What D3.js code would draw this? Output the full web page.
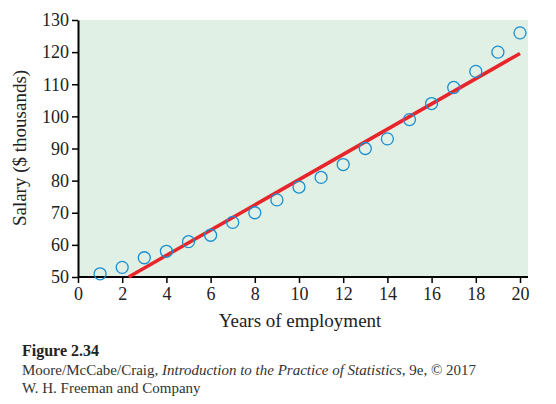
<!DOCTYPE html>
<html><head><meta charset="utf-8">
<script src="https://cdn.jsdelivr.net/npm/d3@7"></script>
<style>body{margin:0;background:#fff}text{font-family:"Liberation Serif","DejaVu Serif",serif}</style>
</head><body><svg></svg>
<script>
var years = [1,2,3,4,5,6,7,8,9,10,11,12,13,14,15,16,17,18,19,20]
var salary = [51,53,56,58,61,63,67,70,74,78,81,85,90,93,99,104,109,114,120,126]
var xTicks = [0,2,4,6,8,10,12,14,16,18,20]
var yTicks = [50,60,70,80,90,100,110,120,130]
var fitIntercept = 41.0, fitSlope = 3.93

var svg = d3.select("svg").attr("width",556).attr("height",404)
var x = d3.scaleLinear().domain([0,20]).range([78,520])
var y = d3.scaleLinear().domain([50,130]).range([277,20])

svg.append("rect").attr("x",78).attr("y",20).attr("width",450).attr("height",257).attr("fill","#e1f0e5")

var xAxis = svg.append("g").attr("transform","translate(0,277)")
  .call(d3.axisBottom(x).tickValues(xTicks).tickSize(6).tickSizeOuter(0))
var yAxis = svg.append("g").attr("transform","translate(78,0)")
  .call(d3.axisLeft(y).tickValues(yTicks).tickSize(6).tickSizeOuter(0))
xAxis.attr("font-size",null).attr("font-family",null)
yAxis.attr("font-size",null).attr("font-family",null)
xAxis.select(".domain").attr("d","M78,0H528").attr("stroke-width",2)
yAxis.select(".domain").attr("stroke-width",2)
svg.selectAll(".tick line").attr("stroke-width",1.5)
svg.selectAll(".tick text").attr("font-size",18).attr("fill","#222")
xAxis.selectAll(".tick text").attr("y",10)
yAxis.selectAll(".tick text").attr("x",-9)

// fitted line, starting where it meets y=50
var x0 = (50-fitIntercept)/fitSlope
svg.append("line")
  .attr("x1",x(x0)).attr("y1",y(50))
  .attr("x2",x(20)).attr("y2",y(fitIntercept+fitSlope*20))
  .attr("stroke","#e8252b").attr("stroke-width",3.5)

svg.selectAll("circle").data(years).join("circle")
  .attr("cx",d=>x(d)).attr("cy",(d,i)=>y(salary[i])).attr("r",6)
  .attr("fill","none").attr("stroke","#1a8fd0").attr("stroke-width",1.3)

svg.append("text").attr("x",300).attr("y",327).attr("text-anchor","middle")
  .attr("font-size",19).attr("fill","#222").text("Years of employment")
svg.append("text").attr("transform","translate(26,148) rotate(-90)").attr("text-anchor","middle")
  .attr("font-size",19).attr("fill","#222").text("Salary ($ thousands)")

svg.append("text").attr("x",22).attr("y",356).attr("font-size",16).attr("font-weight","bold").attr("fill","#222").text("Figure 2.34")
var c = svg.append("text").attr("x",22).attr("y",375).attr("font-size",15).attr("fill","#333")
c.append("tspan").text("Moore/McCabe/Craig, ")
c.append("tspan").attr("font-style","italic").text("Introduction to the Practice of Statistics")
c.append("tspan").text(", 9e, \u00a9 2017")
svg.append("text").attr("x",22).attr("y",393).attr("font-size",15).attr("fill","#333").text("W. H. Freeman and Company")
</script></body></html>
